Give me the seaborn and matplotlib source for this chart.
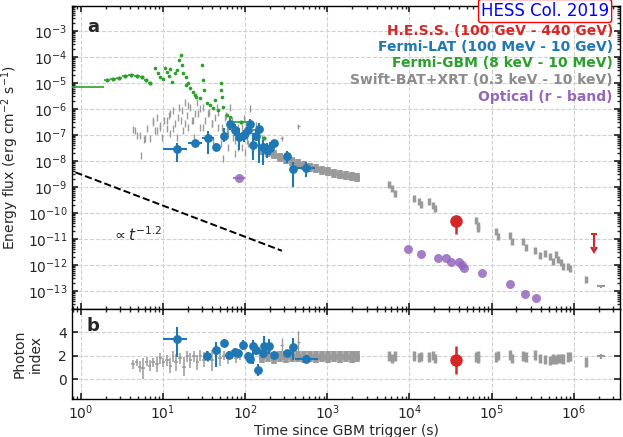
import numpy as np
import pandas as pd
import seaborn as sns
import matplotlib.pyplot as plt
from matplotlib.ticker import LogLocator, NullFormatter, FixedLocator

# ---- Fermi-GBM (8 keV - 10 MeV) ----
gbm_bin_lo = [0.1, 1.9, 2.26, 2.67, 3.16, 3.74, 4.43, 5.24, 5.87, 6.56, 70, 125, 160]
gbm_bin_hi = [1.9, 2.26, 2.67, 3.16, 3.74, 4.43, 5.24, 5.87, 6.56, 7.34, 115, 160, 180]
gbm_bin_flux = [7.0e-6, 1.3e-5, 1.4e-5, 1.5e-5, 1.8e-5, 2.0e-5, 1.8e-5, 1.66e-5, 1.26e-5, 1.0e-5,
                3.1e-7, 1.5e-7, 7.4e-8]
gbm_t = [8.0, 8.7, 9.2, 10.0, 10.6, 11.2, 11.8, 12.2, 12.9, 14.0, 14.8, 15.7, 16.6, 17.1, 17.5,
         19.1, 19.1, 20.2, 21.3, 23.2, 24.6, 25.3, 28.3, 29.9, 30.6, 31.6, 34.4, 37.4, 40.7,
         43.0, 46.9, 51.0, 51.0, 52.0, 53.6, 60.3, 65.6]
gbm_flux = [3.7e-5, 2.4e-5, 1.66e-5, 1.4e-5, 3.7e-5, 2.6e-5, 1.8e-5, 3.4e-5, 1.07e-5, 2.4e-5, 3.1e-5,
            7.4e-5, 1.17e-4, 4.8e-5, 2.4e-5, 1.66e-5, 8.1e-6, 1.0e-5, 6.4e-6, 4.5e-6, 3.4e-6,
            2.8e-6, 2.6e-6, 4.8e-5, 1.26e-5, 5.4e-6, 1.66e-6, 1.4e-6, 1.07e-6, 2.2e-6, 8.9e-7,
            1.0e-5, 5.4e-6, 2.8e-6, 1.17e-6, 5.7e-7, 4.8e-7]

# ---- Fermi-LAT (100 MeV - 10 GeV) ----
lat_t = [14.9, 24.8, 35.1, 44.7, 55.5, 65.0, 74.8, 85.1, 96.4, 107, 116, 125, 134, 146, 167,
         182, 199, 227, 323, 378, 554]
lat_tlo = [10.1, 20.1, 29.6, 41.5, 51.5, 60.5, 69.5, 79.5, 90.0, 100, 110, 119, 127, 138, 157,
           172, 188, 210, 300, 355, 385]
lat_thi = [19.5, 29.9, 41.8, 48.0, 59.5, 69.5, 79.5, 90.5, 103, 113, 122, 131, 141, 154, 177,
           193, 210, 245, 348, 402, 711]
lat_flux = [2.75e-8, 4.9e-8, 7.7e-8, 3.4e-8, 9.3e-8, 2.5e-7, 1.6e-7, 8.4e-8, 9.6e-8, 1.6e-7,
            2.5e-7, 4.1e-8, 8.9e-8, 1.66e-7, 3.5e-8, 2.6e-8, 3.2e-8, 4.8e-8, 1.58e-8, 4.7e-9, 5.2e-9]
lat_flux_lo = [9.1e-9, 3.6e-8, 1.8e-8, 2.4e-8, 5.2e-8, 1.5e-7, 9.0e-8, 2.6e-8, 5.2e-8, 8.1e-8,
               1.5e-7, 1.07e-8, 5.7e-8, 8.1e-9, 6.8e-9, 1.26e-8, 1.66e-8, 3.7e-8, 8.1e-9, 1.0e-9, 2.4e-9]
lat_flux_hi = [4.8e-8, 6.6e-8, 1.38e-7, 4.8e-8, 1.8e-7, 4.0e-7, 2.6e-7, 1.8e-7, 1.5e-7, 2.6e-7,
               4.0e-7, 1.17e-7, 1.38e-7, 2.8e-7, 6.3e-8, 4.8e-8, 5.2e-8, 6.3e-8, 2.4e-8, 9.1e-9, 9.1e-9]

lat_idx_t = [14.9, 34.7, 44.3, 55.0, 64.4, 75.5, 82.8, 95.3, 107, 113, 126, 136, 143, 171, 195,
             167, 226, 323, 377, 554]
lat_idx_tlo = [10.1, 32.5, 41.5, 51.5, 60.5, 70.5, 79.0, 90.0, 101, 109, 120, 130, 138, 163, 185,
               160, 212, 305, 360, 408]
lat_idx_thi = [19.5, 37.0, 47.5, 58.5, 68.5, 80.0, 87.0, 101, 112, 118, 132, 142, 149, 180, 205,
               175, 240, 342, 395, 777]
lat_idx = [3.46, 2.04, 2.53, 3.09, 2.10, 2.38, 2.27, 2.95, 1.96, 1.76, 2.81, 2.47, 0.83, 2.89, 2.81,
           2.24, 2.10, 2.24, 2.75, 1.76]
lat_idx_lo = [1.90, 1.64, 1.05, 2.74, 1.80, 2.08, 1.97, 2.55, 1.61, 1.46, 1.36, 2.07, 0.34, 2.04, 2.21,
              1.84, 1.80, 1.94, 1.62, 1.46]
lat_idx_hi = [4.50, 2.44, 3.17, 3.44, 2.40, 2.68, 2.57, 3.35, 2.31, 2.06, 3.40, 2.87, 1.36, 3.74, 3.41,
              2.64, 2.40, 2.54, 3.49, 2.06]

# ---- H.E.S.S. (100 GeV - 440 GeV) ----
hess_t = [3.7e4]
hess_flux = [4.8e-11]
hess_flux_lo = [1.6e-11]
hess_flux_hi = [8.1e-11]
hess_idx = [1.68]
hess_idx_lo = [0.49]
hess_idx_hi = [2.89]
hess_ul_t = [1.77e6]
hess_ul_flux = [1.48e-11]

# ---- Optical (r - band) ----
opt_t = [85, 9.6e3, 1.4e4, 2.2e4, 2.8e4, 3.2e4, 4.0e4, 4.3e4, 4.6e4, 7.6e4, 1.67e5, 2.55e5, 3.44e5]
opt_tlo = [71, 9.6e3, 1.4e4, 2.2e4, 2.8e4, 3.2e4, 4.0e4, 4.3e4, 4.6e4, 7.6e4, 1.67e5, 2.55e5, 3.44e5]
opt_thi = [100, 9.6e3, 1.4e4, 2.2e4, 2.8e4, 3.2e4, 4.0e4, 4.3e4, 4.6e4, 7.6e4, 1.67e5, 2.55e5, 3.44e5]
opt_flux = [2.2e-9, 3.9e-12, 2.6e-12, 1.77e-12, 1.9e-12, 1.3e-12, 1.24e-12, 9.8e-13, 7.6e-13,
            4.9e-13, 1.77e-13, 7.6e-14, 5.3e-14]

# ---- Swift-BAT (early, scattered) ----
bat_t = [4.34, 4.78, 5.39, 5.87, 6.44, 6.94, 7.62, 7.99, 8.52, 9.19, 9.64, 10.4, 11.1, 11.7, 12.2,
         13.4, 14.0, 14.7, 15.8, 16.6, 17.7, 18.5, 19.5, 20.4, 21.3, 23.0, 23.9, 25.8, 26.9, 28.3,
         30.5, 32.5, 34.1, 36.7, 39.3, 41.0, 45.2, 47.2, 50.6, 54.4, 57.0, 59.8, 62.5, 65.6, 72.0,
         75.5, 82.8, 91.2, 97.2, 106, 115, 122, 136, 148, 161,
         4.58, 5.26, 6.06, 7.58, 8.48, 9.22, 11.2, 12.2, 13.3, 15.3, 17.1, 18.6, 20.2, 22.6, 24.6,
         28.3, 30.8, 35.4, 39.5, 43.0, 46.9, 52.5, 58.6, 62.0, 69.3, 75.4, 82.0, 91.8, 99.8, 109]
bat_flux = [1.61e-7, 9.7e-8, 1.66e-8, 6.65e-8, 1.76e-7, 7.3e-8, 3.67e-7, 1.52e-7, 4.92e-7, 2.36e-7,
            8.4e-8, 3.67e-7, 1.76e-7, 5.73e-7, 1.13e-7, 8.9e-7, 2.74e-7, 8.4e-8, 1.19e-6, 3.67e-7,
            1.52e-7, 1.86e-6, 5.73e-7, 2.03e-7, 1.19e-6, 3.67e-7, 8.4e-8, 1.86e-6, 6.65e-7, 2.03e-7,
            1.19e-6, 3.67e-7, 8.4e-8, 7.67e-7, 2.74e-7, 6.25e-8, 1.19e-6, 2.03e-7, 4.67e-8, 1.24e-8,
            4.92e-7, 1.52e-7, 3.45e-8, 1.19e-6, 8.4e-8, 1.93e-8, 2.03e-7, 3.45e-8, 4.4e-7, 6.25e-8,
            1.06e-6, 2.6e-8, 2.36e-7, 4.0e-8, 7.6e-8,
            1.52e-7, 9.7e-8, 7.5e-8, 3.08e-7, 1.52e-7, 1.98e-7, 3.67e-7, 6.8e-7, 1.81e-7, 4.8e-7,
            8.9e-7, 2.82e-7, 1.39e-6, 3.67e-7, 6.8e-7, 1.06e-6, 1.98e-7, 6.8e-7, 2.82e-7, 4.8e-7,
            7.5e-7, 1.98e-7, 5.7e-7, 1.52e-7, 3.67e-7, 6.25e-8, 3.37e-8, 1.98e-7, 2.16e-8, 4.8e-8]
bat_rel_err = 0.3

bat_idx_t = [4.31, 4.81, 5.24, 5.7, 6.38, 6.94, 7.55, 8.45, 9.2, 10.0, 11.2, 12.2, 13.2, 14.4, 16.1,
             18.0, 19.6, 21.3, 23.9, 26.0, 28.3, 31.6, 35.4, 39.6, 44.3, 49.6, 55.5, 62.1, 69.4,
             77.6, 86.9]
bat_idx = [1.28, 1.45, 1.10, 0.94, 1.53, 1.19, 1.45, 1.28, 1.79, 1.45, 1.62, 1.19, 1.96, 1.45, 1.79,
           1.10, 1.96, 1.62, 1.96, 1.45, 2.04, 1.70, 1.96, 1.62, 2.13, 1.79, 2.04, 1.79, 2.13, 1.87, 2.04]
bat_idx_err = [0.4, 0.3, 0.5, 0.9, 0.4, 0.5, 0.4, 0.6, 0.5, 0.4, 0.5, 0.6, 0.5, 0.7, 0.5, 0.8, 0.5,
               0.6, 0.5, 0.6, 0.5, 0.6, 0.5, 0.9, 0.5, 0.6, 0.4, 0.5, 0.4, 0.5, 0.4]

# ---- Swift-XRT (dense early band) ----
xrt_t = [161, 191, 226, 267, 316, 374, 443, 524, 621, 735, 869, 1028, 1217, 1441, 1706, 2018, 2321]
xrt_flux = [2.58e-8, 2.16e-8, 1.73e-8, 1.39e-8, 1.16e-8, 9.7e-9, 7.8e-9, 6.5e-9, 5.7e-9, 5.0e-9,
            4.4e-9, 3.85e-9, 3.37e-9, 2.94e-9, 2.7e-9, 2.47e-9, 2.26e-9]
xrt_idx = [1.90, 2.00, 1.85, 1.95, 1.90, 2.00, 1.95, 1.90, 1.95, 1.90, 1.95, 1.90, 1.95, 1.90, 1.95,
           1.90, 1.95]
xrt_fac_err = 1.5
xrt_idx_err = 0.5

# ---- Swift-XRT (later orbits) ----
xrt_late_t = [5.7e3, 6.2e3, 6.7e3, 1.15e4, 1.29e4, 1.4e4, 1.75e4, 1.91e4, 2.02e4, 6.4e4, 6.75e4, 6.9e4,
              1.14e5, 1.2e5, 1.65e5, 1.75e5, 2.4e5, 2.6e5, 3.4e5, 3.9e5, 4.4e5, 5.2e5, 5.6e5,
              6.1e5, 6.4e5, 7.0e5, 7.4e5, 8.5e5, 8.9e5, 1.4e6]
xrt_late_flux = [1.27e-9, 8.9e-10, 5.7e-10, 3.67e-10, 2.8e-10, 2.16e-10, 2.8e-10, 2.0e-10, 1.5e-10,
                 5.2e-11, 3.4e-11, 2.6e-11, 2.0e-11, 1.26e-11, 1.38e-11, 8.1e-12, 8.1e-12, 4.8e-12,
                 3.7e-12, 2.4e-12, 2.8e-12, 2.1e-12, 1.37e-12, 2.6e-12, 1.64e-12, 1.26e-12, 8.9e-13,
                 8.9e-13, 7.4e-13, 2.8e-13]
xrt_late_idx = [2.0, 1.8, 2.0, 2.0, 1.85, 1.95, 1.9, 2.05, 1.8, 1.9, 2.0, 1.8, 1.9, 2.05, 2.1, 1.8,
                2.0, 1.9, 2.1, 1.8, 1.7, 1.6, 1.75, 1.7, 1.8, 1.8, 1.75, 1.9, 1.95, 1.5]
xrt_late_rel_err = 0.3
xrt_late_idx_err = 0.4

xrt_last_t = [2.14e6]
xrt_last_tlo = [1.9e6]
xrt_last_thi = [2.4e6]
xrt_last_flux = [1.5e-13]
xrt_last_idx = [1.96]

xrt_odd_t = [278, 445]
xrt_odd_flux = [7.4e-8, 2.1e-7]
xrt_odd_idx = [2.9, 3.17]
xrt_odd_idx_lo = [2.3, 2.21]
xrt_odd_idx_hi = [3.49, 4.17]

# power-law guide
pl_t = [0.5, 280]
pl_norm = 3.0e-9
pl_index = -1.2

legend_lines = [("H.E.S.S. (100 GeV - 440 GeV)", "#d62728"),
                ("Fermi-LAT (100 MeV - 10 GeV)", "#1f77b4"),
                ("Fermi-GBM (8 keV - 10 MeV)", "#2ca02c"),
                ("Swift-BAT+XRT (0.3 keV - 10 keV)", "#8c8c8c"),
                ("Optical (r - band)", "#9467bd")]

x_major = [1e0, 1e1, 1e2, 1e3, 1e4, 1e5, 1e6]
y_major = [1e-13, 1e-12, 1e-11, 1e-10, 1e-9, 1e-8, 1e-7, 1e-6, 1e-5, 1e-4, 1e-3]

C_RED, C_BLUE, C_GREEN, C_GRAY, C_PURPLE = "#d62728", "#1f77b4", "#2ca02c", "#9a9a9a", "#9467bd"


def edges(t):
    t = np.asarray(t, float)
    mid = np.sqrt(t[1:] * t[:-1])
    lo = np.r_[t[0] ** 2 / mid[0], mid]
    hi = np.r_[mid, t[-1] ** 2 / mid[-1]]
    return lo, hi


def asym(v, lo, hi):
    v, lo, hi = np.asarray(v, float), np.asarray(lo, float), np.asarray(hi, float)
    return [v - lo, hi - v]


sns.set_theme(style="ticks", rc={
    "xtick.direction": "in", "ytick.direction": "in",
    "xtick.top": True, "ytick.right": True,
    "xtick.major.size": 4, "ytick.major.size": 4,
    "xtick.minor.size": 2, "ytick.minor.size": 2,
    "xtick.labelsize": 10, "ytick.labelsize": 10,
    "axes.labelsize": 10, "axes.linewidth": 1.0,
    "axes.edgecolor": "black",
})
plt.rcParams["font.family"] = ["DejaVu Sans"]

W, H = 623, 437
fig = plt.figure(figsize=(W / 100, H / 100), dpi=100)
ax1 = fig.add_axes([72 / W, 1 - 309 / H, 548 / W, 303 / H])
ax2 = fig.add_axes([72 / W, 1 - 399 / H, 548 / W, 90 / H], sharex=ax1)

for ax in (ax1, ax2):
    ax.set_xscale("log")
ax1.set_yscale("log")

# ---------------- panel a ----------------
ax1.errorbar(bat_t, bat_flux, yerr=np.array(bat_flux) * bat_rel_err, fmt="none",
             ecolor=C_GRAY, elinewidth=1.0, zorder=2)
lo, hi = edges(xrt_t)
xf = np.array(xrt_flux)
ax1.errorbar(xrt_t, xrt_flux, xerr=asym(xrt_t, lo, hi), yerr=[xf - xf / xrt_fac_err, xf * xrt_fac_err - xf],
             fmt="none", ecolor=C_GRAY, elinewidth=4, zorder=2)
ax1.errorbar(xrt_late_t, xrt_late_flux, yerr=np.array(xrt_late_flux) * xrt_late_rel_err,
             fmt="none", ecolor=C_GRAY, elinewidth=2.5, zorder=2)
ax1.errorbar(xrt_last_t, xrt_last_flux, xerr=asym(xrt_last_t, xrt_last_tlo, xrt_last_thi),
             yerr=np.array(xrt_last_flux) * 0.15, fmt="none", ecolor=C_GRAY, elinewidth=1.5, zorder=2)
ax1.errorbar(xrt_odd_t, xrt_odd_flux, xerr=np.array(xrt_odd_t) * 0.05,
             yerr=np.array(xrt_odd_flux) * 0.2, fmt="none", ecolor=C_GRAY, elinewidth=1.0, zorder=2)

gbm_mid = np.sqrt(np.array(gbm_bin_lo) * np.array(gbm_bin_hi))
ax1.errorbar(gbm_mid, gbm_bin_flux, xerr=asym(gbm_mid, gbm_bin_lo, gbm_bin_hi),
             fmt="o", ms=2, color=C_GREEN, elinewidth=1.2, zorder=3)
sns.scatterplot(x=gbm_t, y=gbm_flux, ax=ax1, color=C_GREEN, s=7, linewidth=0, zorder=3)

ax1.errorbar(lat_t, lat_flux, xerr=asym(lat_t, lat_tlo, lat_thi),
             yerr=asym(lat_flux, lat_flux_lo, lat_flux_hi),
             fmt="none", ecolor=C_BLUE, elinewidth=1.5, zorder=4)
sns.scatterplot(x=lat_t, y=lat_flux, ax=ax1, color=C_BLUE, s=40, linewidth=0, zorder=5)

ax1.errorbar(opt_t, opt_flux, xerr=asym(opt_t, opt_tlo, opt_thi), fmt="none",
             ecolor=C_PURPLE, elinewidth=1.5, alpha=0.85, zorder=4)
sns.scatterplot(x=opt_t, y=opt_flux, ax=ax1, color=C_PURPLE, s=42, linewidth=0, alpha=0.85, zorder=5)

ax1.errorbar(hess_t, hess_flux, yerr=asym(hess_flux, hess_flux_lo, hess_flux_hi),
             fmt="o", ms=8, color=C_RED, elinewidth=1.8, zorder=6)
ax1.errorbar(hess_ul_t, hess_ul_flux, yerr=np.array(hess_ul_flux) * 0.667, uplims=True,
             capsize=2.5, fmt="none", ecolor=C_RED, elinewidth=1.5, capthick=1.5, zorder=6)

pl_t = np.array(pl_t, float)
sns.lineplot(x=pl_t, y=pl_norm * pl_t ** pl_index, ax=ax1, color="black", linestyle="--",
             linewidth=1.4, zorder=3)
ax1.text(2.4, 1.4e-11, r"$\propto t^{-1.2}$", fontsize=11, ha="left", va="center")

ax1.set_xlim(0.78, 3.65e6)
ax1.set_ylim(2e-14, 9e-3)
ax1.yaxis.set_major_locator(FixedLocator(y_major))
ax1.yaxis.set_minor_locator(LogLocator(base=10, subs=np.arange(2, 10), numticks=100))
ax1.yaxis.set_minor_formatter(NullFormatter())
ax1.xaxis.set_major_locator(FixedLocator(x_major))
ax1.xaxis.set_minor_locator(LogLocator(base=10, subs=np.arange(2, 10), numticks=100))
ax1.tick_params(axis="x", which="both", labelbottom=False)
ax1.grid(True, which="major", linestyle="--", color="#d0d0d0", linewidth=0.8)
ax1.set_ylabel(r"Energy flux (erg cm$^{-2}$ s$^{-1}$)")
ax1.yaxis.set_label_coords(-0.093, 0.5)
ax1.text(0.038, 0.93, "a", transform=ax1.transAxes, fontsize=13, fontweight="bold",
         ha="center", va="center")

for (label, col), yf in zip(legend_lines, [0.9175, 0.865, 0.812, 0.756, 0.70]):
    ax1.text(0.987, yf, label, transform=ax1.transAxes, ha="right", va="center",
             fontsize=10, fontweight="bold", color=col, zorder=7)

# ---------------- panel b ----------------
lo, hi = edges(bat_idx_t)
ax2.errorbar(bat_idx_t, bat_idx, xerr=asym(bat_idx_t, lo, hi), yerr=bat_idx_err,
             fmt="none", ecolor=C_GRAY, elinewidth=1.1, zorder=2)
lo, hi = edges(xrt_t)
ax2.errorbar(xrt_t, xrt_idx, xerr=asym(xrt_t, lo, hi), yerr=xrt_idx_err,
             fmt="none", ecolor=C_GRAY, elinewidth=4, zorder=2)
ax2.errorbar(xrt_late_t, xrt_late_idx, yerr=xrt_late_idx_err, fmt="none",
             ecolor=C_GRAY, elinewidth=2.5, zorder=2)
ax2.errorbar(xrt_last_t, xrt_last_idx, xerr=asym(xrt_last_t, xrt_last_tlo, xrt_last_thi),
             yerr=0.2, fmt="none", ecolor=C_GRAY, elinewidth=1.5, zorder=2)
ax2.errorbar(xrt_odd_t, xrt_odd_idx, xerr=np.array(xrt_odd_t) * 0.05,
             yerr=asym(xrt_odd_idx, xrt_odd_idx_lo, xrt_odd_idx_hi),
             fmt="none", ecolor=C_GRAY, elinewidth=1.0, zorder=2)

ax2.errorbar(lat_idx_t, lat_idx, xerr=asym(lat_idx_t, lat_idx_tlo, lat_idx_thi),
             yerr=asym(lat_idx, lat_idx_lo, lat_idx_hi),
             fmt="none", ecolor=C_BLUE, elinewidth=1.5, zorder=4)
sns.scatterplot(x=lat_idx_t, y=lat_idx, ax=ax2, color=C_BLUE, s=40, linewidth=0, zorder=5)
ax2.errorbar(hess_t, hess_idx, yerr=asym(hess_idx, hess_idx_lo, hess_idx_hi),
             fmt="o", ms=8, color=C_RED, elinewidth=1.8, zorder=6)

ax2.set_ylim(-1.66, 6.0)
ax2.set_yticks([0, 2, 4])
ax2.xaxis.set_major_locator(FixedLocator(x_major))
ax2.xaxis.set_minor_locator(LogLocator(base=10, subs=np.arange(2, 10), numticks=100))
ax2.xaxis.set_minor_formatter(NullFormatter())
ax2.grid(True, which="major", linestyle="--", color="#d0d0d0", linewidth=0.8)
ax2.set_ylabel("Photon\nindex")
ax2.yaxis.set_label_coords(-0.053, 0.5)
ax2.set_xlabel("Time since GBM trigger (s)", labelpad=1)
ax2.text(0.038, 0.81, "b", transform=ax2.transAxes, fontsize=13, fontweight="bold",
         ha="center", va="center")
ax1.set_xlim(0.78, 3.65e6)

fig.text(481 / W, 1 - 16 / H, "HESS Col. 2019", fontsize=12, color="blue",
         ha="left", va="baseline",
         bbox=dict(boxstyle="round,pad=0.15", fc="white", ec="red", lw=1.0))

fig.savefig("out.png", dpi=100)
